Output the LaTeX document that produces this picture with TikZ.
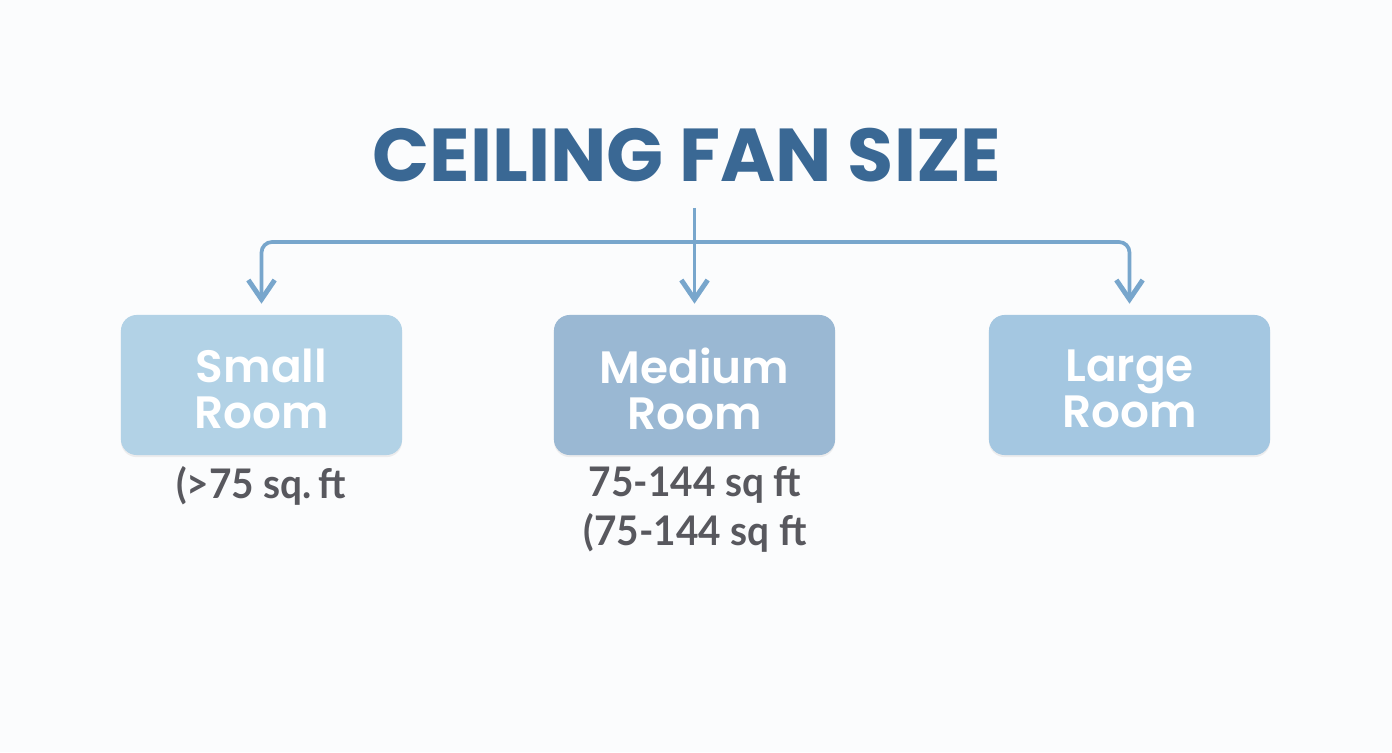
\documentclass[tikz,border=0pt]{standalone}
\usepackage{fontspec}
\setmainfont{Poppins}
\newfontfamily\roomfont{Poppins SemiBold}
\newfontfamily\infofont{Lato}[FakeStretch=0.95]
\usetikzlibrary{arrows.meta}
\usetikzlibrary{shadows}
\newcommand{\tightlines}{\lineskiplimit=-10pt\relax}
\definecolor{pagebg}{RGB}{251,252,253}
\definecolor{titleblue}{RGB}{58,104,148}
\definecolor{linkblue}{RGB}{120,166,204}
\definecolor{smallfill}{RGB}{178,210,230}
\definecolor{mediumfill}{RGB}{154,184,211}
\definecolor{largefill}{RGB}{164,199,225}
\definecolor{infogray}{RGB}{88,88,94}
\tikzset{
  room/.style={rounded corners=4.5pt, minimum width=2.81cm, minimum height=1.4cm,
    inner sep=0pt,
    drop shadow={opacity=0.12, shadow xshift=0pt, shadow yshift=-0.6pt}},
  roomtext/.style={align=center, text=white, inner sep=0pt, yshift=-1.1pt,
    font={\fontsize{12.9}{13.3}\roomfont\tightlines}},
  info/.style={align=center, text=infogray, inner sep=0pt,
    font={\fontsize{11.6}{13.9}\infofont\bfseries\tightlines}},
  branch/.style={draw=linkblue, line width=1.05pt, rounded corners=3pt,
    -{Straight Barb[length=5.5pt,width=7.5pt,line width=1.4pt]}, shorten >=3pt}
}

\begin{document}
\begin{tikzpicture}[x=0.01cm,y=-0.01cm]
\fill[pagebg] (0,0) rectangle (1392,752);
\useasboundingbox (0,0) rectangle (1392,752);
\node (title) at (687,155) [text=titleblue, font=\fontsize{21.3}{24}\selectfont\bfseries]{CEILING FAN SIZE};
\node (small) at (261.5,385) [room, fill=smallfill]{};
\node (medium) at (694.5,385) [room, fill=mediumfill]{};
\node (large) at (1129.5,385) [room, fill=largefill]{};
\node (smalltext) at (small.center) [roomtext]{Small\\Room};
\node (mediumtext) at (medium.center) [roomtext]{Medium\\Room};
\node (largetext) at (large.center) [roomtext]{Large\\Room};
\node (smallinfo) at (261,486) [info]{(>75 sq.\,ft};
\node (mediuminfo) at (695,509) [info]{75-144 sq ft\\(75-144 sq ft};
\coordinate (top) at (694.5,208);
\coordinate (split) at (694.5,242);
\draw[branch] (top) -- (medium.north);
\draw[branch] (split) -| (small.north);
\draw[branch] (split) -| (large.north);
\end{tikzpicture}
\end{document}
